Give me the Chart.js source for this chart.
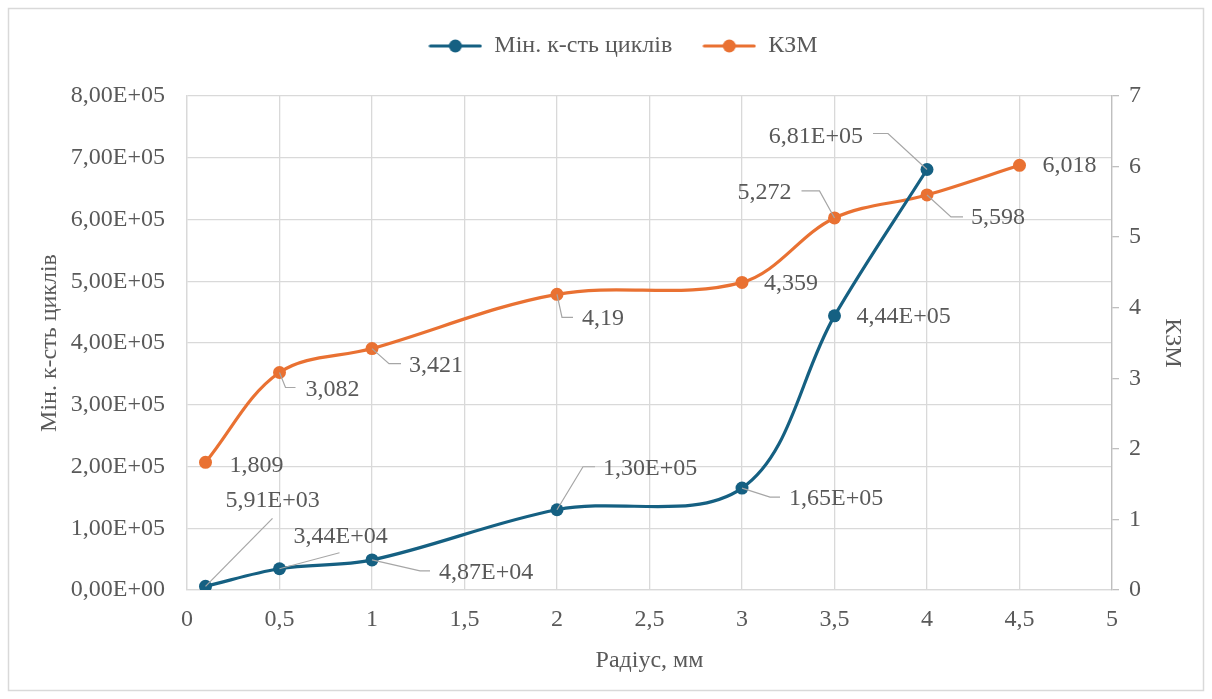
<!DOCTYPE html>
<html>
<head>
<meta charset="utf-8">
<script src="https://cdn.jsdelivr.net/npm/chart.js@4/dist/chart.umd.min.js"></script>
<style>
  html, body { margin: 0; padding: 0; background: #fff; }
  #wrap { width: 1212px; height: 699px; }
</style>
</head>
<body>
<div id="wrap"><canvas id="myChart" width="1212" height="699"></canvas></div>
<script>
// data
const radiusCycles = [0.1, 0.5, 1, 2, 3, 3.5, 4];
const minCycles = [5910, 34400, 48700, 130000, 165000, 444000, 681000];
const radiusKzm = [0.1, 0.5, 1, 2, 3, 3.5, 4, 4.5];
const kzm = [1.809, 3.082, 3.421, 4.19, 4.359, 5.272, 5.598, 6.018];
const seriesNames = ['Мін. к-сть циклів', 'КЗМ'];
const xTitle = 'Радіус, мм';
const yLeftTitle = 'Мін. к-сть циклів';
const yRightTitle = 'КЗМ';

const BLUE = '#156082';
const ORANGE = '#E97132';
const TEXT = '#595959';
const GRID = '#d9d9d9';
const FONT = '"Liberation Serif", "Times New Roman", serif';
const FS = 24;

// label placement, px relative to the point (text anchor + optional leader line)
const cyclesLabelPos = [
  {dx: 20, dy: -86, align: 'left', leader: [[0, 0], [67, -68]]},
  {dx: 14, dy: -32, align: 'left', leader: [[0, 0], [60, -16]]},
  {dx: 67, dy: 13, align: 'left', leader: [[0, 0], [48, 11], [58, 11]]},
  {dx: 46, dy: -41, align: 'left', leader: [[0, 0], [26, -43], [38, -43]]},
  {dx: 47, dy: 11, align: 'left', leader: [[0, 0], [28, 9], [38, 9]]},
  {dx: 22, dy: 1, align: 'left', leader: null},
  {dx: -64, dy: -33, align: 'right', leader: [[0, 0], [-39, -36], [-54, -36]]}
];
const kzmLabelPos = [
  {dx: 24, dy: 3, align: 'left', leader: null},
  {dx: 26, dy: 17, align: 'left', leader: [[0, 0], [6, 15], [16, 15]]},
  {dx: 37, dy: 17, align: 'left', leader: [[0, 0], [17, 15], [29, 15]]},
  {dx: 25, dy: 24, align: 'left', leader: [[0, 0], [5, 23], [16, 23]]},
  {dx: 22, dy: 1, align: 'left', leader: null},
  {dx: -43, dy: -25, align: 'right', leader: [[0, 0], [-15, -27], [-33, -27]]},
  {dx: 44, dy: 23, align: 'left', leader: [[0, 0], [24, 22], [36, 22]]},
  {dx: 23, dy: 0, align: 'left', leader: null}
];

const sci = (v) => {
  const parts = v.toExponential(2).split('e');
  const e = parseInt(parts[1], 10);
  return parts[0].replace('.', ',') + 'E' + (e < 0 ? '-' : '+') + String(Math.abs(e)).padStart(2, '0');
};
const dec = (v) => String(v).replace('.', ',');

// legend marker: line with a dot
const legendMarker = (color) => {
  const c = document.createElement('canvas');
  c.width = 54; c.height = 14;
  const g = c.getContext('2d');
  g.strokeStyle = color; g.lineWidth = 3; g.lineCap = 'round';
  g.beginPath(); g.moveTo(2, 7); g.lineTo(52, 7); g.stroke();
  g.fillStyle = color;
  g.beginPath(); g.arc(27, 7, 6.5, 0, Math.PI * 2); g.fill();
  return c;
};

const frame = {
  id: 'frame',
  beforeDraw(chart) {
    const ctx = chart.ctx;
    ctx.save();
    ctx.fillStyle = '#fff';
    ctx.fillRect(0, 0, chart.width, chart.height);
    ctx.strokeStyle = GRID;
    ctx.lineWidth = 1.5;
    ctx.strokeRect(8.5, 8.5, 1195, 682);
    ctx.restore();
  }
};

const pointLabels = {
  id: 'pointLabels',
  afterDatasetsDraw(chart) {
    const ctx = chart.ctx;
    const setups = [
      {pos: cyclesLabelPos, fmt: sci},
      {pos: kzmLabelPos, fmt: dec}
    ];
    ctx.save();
    ctx.font = FS + 'px ' + FONT;
    ctx.textBaseline = 'middle';
    setups.forEach((s, di) => {
      const meta = chart.getDatasetMeta(di);
      const data = chart.data.datasets[di].data;
      meta.data.forEach((pt, i) => {
        const p = s.pos[i];
        if (p.leader) {
          ctx.strokeStyle = '#a6a6a6';
          ctx.lineWidth = 1.2;
          ctx.beginPath();
          p.leader.forEach(([lx, ly], k) => {
            if (k === 0) ctx.moveTo(pt.x + lx, pt.y + ly);
            else ctx.lineTo(pt.x + lx, pt.y + ly);
          });
          ctx.stroke();
        }
        ctx.fillStyle = TEXT;
        ctx.textAlign = p.align;
        ctx.fillText(s.fmt(data[i].y), pt.x + p.dx, pt.y + p.dy);
      });
    });
    ctx.restore();
  }
};

const ctx = document.getElementById('myChart').getContext('2d');
const myChart = new Chart(ctx, {
  type: 'line',
  data: {
    datasets: [{
      label: seriesNames[0],
      data: radiusCycles.map((x, i) => ({x: x, y: minCycles[i]})),
      yAxisID: 'y',
      borderColor: BLUE,
      backgroundColor: BLUE,
      pointBackgroundColor: BLUE,
      pointBorderColor: BLUE,
      borderWidth: 3.2,
      pointRadius: 6.5,
      pointBorderWidth: 0,
      tension: 0.35
    }, {
      label: seriesNames[1],
      data: radiusKzm.map((x, i) => ({x: x, y: kzm[i]})),
      yAxisID: 'y2',
      borderColor: ORANGE,
      backgroundColor: ORANGE,
      pointBackgroundColor: ORANGE,
      pointBorderColor: ORANGE,
      borderWidth: 3.2,
      pointRadius: 6.5,
      pointBorderWidth: 0,
      tension: 0.35
    }]
  },
  options: {
    responsive: false,
    animation: false,
    devicePixelRatio: 1,
    layout: {padding: {top: 4, left: 34, right: 0, bottom: 0}},
    plugins: {
      tooltip: {enabled: false},
      title: {
        display: true,
        text: ' ',
        weight: 100,
        padding: 2,
        font: {size: 20, family: FONT}
      },
      legend: {
        position: 'top',
        labels: {
          usePointStyle: true,
          pointStyleWidth: 54,
          padding: 30,
          color: TEXT,
          font: {size: FS, family: FONT},
          generateLabels: (chart) => chart.data.datasets.map((ds, i) => ({
            text: ds.label,
            fillStyle: ds.borderColor,
            strokeStyle: ds.borderColor,
            fontColor: TEXT,
            pointStyle: legendMarker(ds.borderColor),
            datasetIndex: i,
            hidden: false,
            lineWidth: 0
          }))
        }
      }
    },
    scales: {
      x: {
        type: 'linear',
        min: 0,
        max: 5,
        afterFit: (s) => { s.height = 109; },
        ticks: {
          stepSize: 0.5,
          padding: 15,
          color: TEXT,
          font: {size: FS, family: FONT},
          callback: (v) => dec(v)
        },
        grid: {color: GRID, lineWidth: 1.3, drawTicks: false},
        border: {color: GRID, width: 1.3},
        title: {
          display: true,
          text: xTitle,
          color: TEXT,
          font: {size: FS, family: FONT},
          padding: {top: 0, bottom: 24}
        }
      },
      y: {
        position: 'left',
        min: 0,
        max: 800000,
        afterFit: (s) => { s.width = 153; },
        ticks: {
          stepSize: 100000,
          padding: 22,
          color: TEXT,
          font: {size: FS, family: FONT},
          callback: (v) => sci(v)
        },
        grid: {color: GRID, lineWidth: 1.3, drawTicks: false},
        border: {color: GRID, width: 1.3},
        title: {
          display: true,
          text: yLeftTitle,
          color: TEXT,
          font: {size: FS, family: FONT},
          padding: {top: 1, bottom: 0}
        }
      },
      y2: {
        position: 'right',
        min: 0,
        max: 7,
        afterFit: (s) => { s.width = 100; },
        ticks: {
          stepSize: 1,
          padding: 10,
          color: TEXT,
          font: {size: FS, family: FONT}
        },
        grid: {drawOnChartArea: false, color: '#bfbfbf', lineWidth: 1.3, tickLength: 7},
        border: {color: '#bfbfbf', width: 1.3},
        title: {
          display: true,
          text: yRightTitle,
          color: TEXT,
          font: {size: FS, family: FONT},
          padding: {top: 25, bottom: 0}
        }
      }
    }
  },
  plugins: [frame, pointLabels]
});
</script>
</body>
</html>
